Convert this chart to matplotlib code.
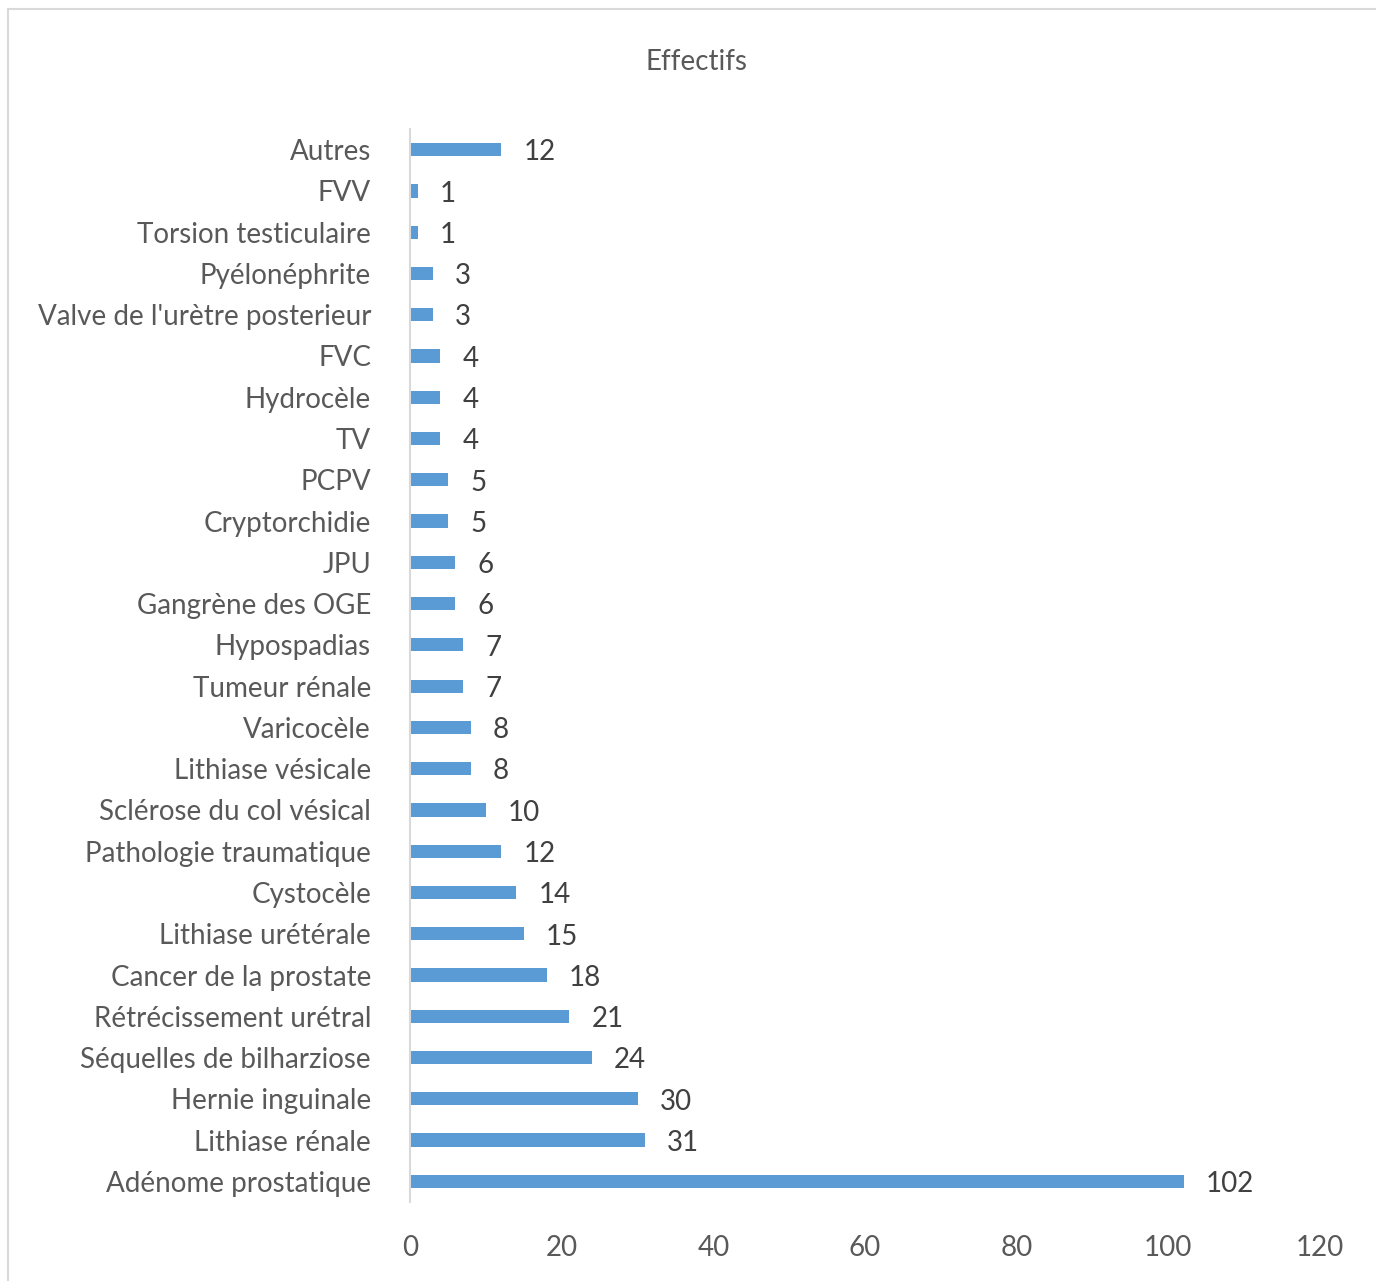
import matplotlib.pyplot as plt
from matplotlib.patches import Rectangle

plt.rcParams['font.family'] = ['Lato', 'DejaVu Sans']

# categories listed bottom to top
categories = [
    "Adénome prostatique", "Lithiase rénale", "Hernie inguinale",
    "Séquelles de bilharziose", "Rétrécissement urétral", "Cancer de la prostate",
    "Lithiase urétérale", "Cystocèle", "Pathologie traumatique",
    "Sclérose du col vésical", "Lithiase vésicale", "Varicocèle",
    "Tumeur rénale", "Hypospadias", "Gangrène des OGE", "JPU", "Cryptorchidie",
    "PCPV", "TV", "Hydrocèle", "FVC", "Valve de l'urètre posterieur",
    "Pyélonéphrite", "Torsion testiculaire", "FVV", "Autres",
]
effectifs = [102, 31, 30, 24, 21, 18, 15, 14, 12, 10, 8, 8, 7, 7, 6, 6, 5,
             5, 4, 4, 4, 3, 3, 1, 1, 12]
xticks = [0, 20, 40, 60, 80, 100, 120]

text_color = '#595959'
bar_color = '#5B9BD5'
fs = 20

fig = plt.figure(figsize=(13.76, 12.81), dpi=100)
fig.patches.append(Rectangle((8 / 1376, -0.01), 1.02, 1 - 9 / 1281 + 0.01,
                             transform=fig.transFigure, fill=False,
                             edgecolor='#D9D9D9', linewidth=1.5))
ax = fig.add_axes([410 / 1376, 1 - 1202 / 1281, 910 / 1376, (1202 - 129) / 1281])

pos = list(range(len(categories)))
ax.barh(pos, effectifs, height=0.32, color=bar_color)
for y, v in zip(pos, effectifs):
    ax.annotate(str(v), (v, y), xytext=(16, -2), textcoords='offset points',
                va='center', ha='left', fontsize=fs, color='#404040')

ax.set_xlim(0, 120)
ax.set_ylim(-0.5, len(categories) - 0.5)
ax.set_xticks(xticks)
ax.set_yticks(pos)
ax.set_yticklabels(categories)
ax.tick_params(axis='both', length=0, labelsize=fs, labelcolor=text_color)
ax.tick_params(axis='y', pad=28)
ax.tick_params(axis='x', pad=24)
for side in ['top', 'right', 'bottom']:
    ax.spines[side].set_visible(False)
ax.spines['left'].set_color('#D9D9D9')
ax.spines['left'].set_linewidth(1.5)

fig.text(697 / 1376, 1 - 62 / 1281, 'Effectifs', ha='center', va='center',
         fontsize=fs, color=text_color)

fig.savefig('out.png', dpi=100)
